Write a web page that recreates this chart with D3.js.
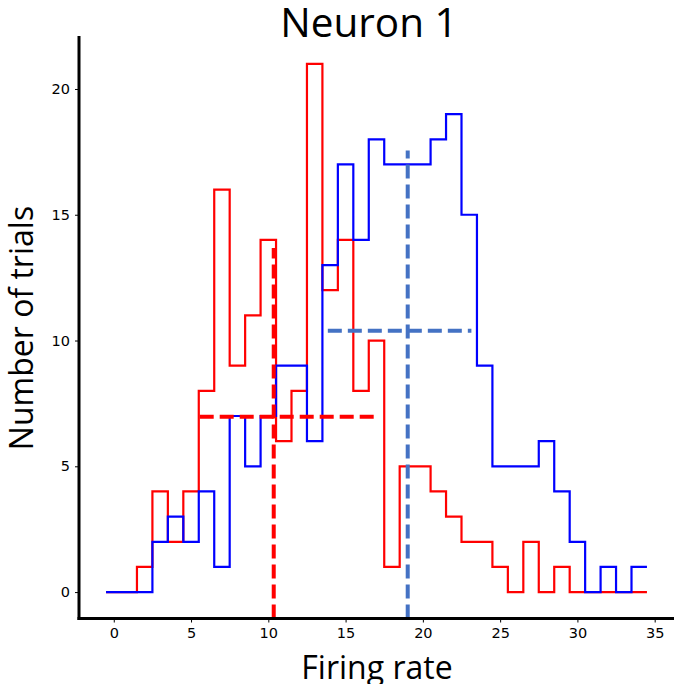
<!DOCTYPE html>
<html>
<head>
<meta charset="utf-8">
<script src="https://cdn.jsdelivr.net/npm/d3@7"></script>
<style>
  html, body { margin: 0; padding: 0; background: #fff; }
  svg { display: block; }
</style>
</head>
<body>
<div id="chart"></div>
<script>
// Bin centres (width 1) for the firing-rate histograms
const binCenters = d3.range(0, 35);
// Trial counts per bin, condition A (red) and condition B (blue)
const redCounts  = [0,0,1,4,2,4,8,16,9,11,14,6,8,21,12,14,8,10,1,5,5,4,3,2,2,1,0,2,0,1,0,0,0,0,0];
const blueCounts = [0,0,0,2,3,2,4,1,7,5,7,9,9,6,13,17,14,18,17,17,17,18,19,15,9,5,5,5,6,4,2,0,1,0,1];
// Summary markers: mean (vertical) and spread (horizontal)
const redMean  = { x: 10.35, top: 13.68, spreadY: 6.97, from: 5.56, to: 16.9 };
const blueMean = { x: 19.02, top: 17.55, spreadY: 10.39, from: 13.85, to: 23.14 };
const xTicks = [0, 5, 10, 15, 20, 25, 30, 35];
const yTicks = [0, 5, 10, 15, 20];

const W = 674, H = 684;
const plotLeft = 79, plotRight = 674, plotTop = 37.4, plotBottom = 618.5;

const svg = d3.select("#chart").append("svg").attr("width", W).attr("height", H);

const x = d3.scaleLinear().domain([-2.25, 36.25]).range([plotLeft, plotRight]);
const y = d3.scaleLinear().domain([-1.05, 22.05]).range([plotBottom, plotTop]);

// Step outline across bin edges
function stepPath(counts) {
  const pts = [];
  counts.forEach((c, i) => {
    pts.push([binCenters[i] - 0.5, c]);
    pts.push([binCenters[i] + 0.5, c]);
  });
  return d3.line().x(d => x(d[0])).y(d => y(d[1]))(pts);
}

svg.append("path").attr("d", stepPath(redCounts))
  .attr("fill", "none").attr("stroke", "#ff0000").attr("stroke-width", 2.2);
svg.append("path").attr("d", stepPath(blueCounts))
  .attr("fill", "none").attr("stroke", "#0000ff").attr("stroke-width", 2.2);

function markers(m, color) {
  const g = svg.append("g").attr("stroke", color).attr("stroke-width", 4)
    .attr("stroke-dasharray", "14,6").attr("fill", "none");
  g.append("line").attr("x1", x(m.x)).attr("x2", x(m.x))
    .attr("y1", y(-1.05)).attr("y2", y(m.top));
  g.append("line").attr("x1", x(m.from)).attr("x2", x(m.to))
    .attr("y1", y(m.spreadY)).attr("y2", y(m.spreadY));
}
markers(redMean, "#ff0000");
markers(blueMean, "#4472c4");

// Axes
const xAxis = svg.append("g").attr("transform", `translate(0,${plotBottom})`)
  .call(d3.axisBottom(x).tickValues(xTicks).tickSize(4).tickPadding(5));
const yAxis = svg.append("g").attr("transform", `translate(${plotLeft},0)`)
  .call(d3.axisLeft(y).tickValues(yTicks).tickSize(4).tickPadding(5));
[xAxis, yAxis].forEach(a => {
  a.select(".domain").remove();
  a.selectAll(".tick line").attr("stroke", "#000").attr("stroke-width", 1);
  a.selectAll(".tick text").attr("fill", "#000")
    .style("font-family", "DejaVu Sans, sans-serif").style("font-size", "14.5px");
});

// Spines
svg.append("line").attr("x1", plotLeft).attr("x2", plotLeft).attr("y1", plotTop - 1.5).attr("y2", plotBottom + 1.5)
  .attr("stroke", "#000").attr("stroke-width", 3);
svg.append("line").attr("x1", plotLeft - 1.5).attr("x2", plotRight).attr("y1", plotBottom).attr("y2", plotBottom)
  .attr("stroke", "#000").attr("stroke-width", 3);

// Labels
svg.append("text").attr("x", 369).attr("y", 37).attr("text-anchor", "middle")
  .style("font-family", "Open Sans, sans-serif").style("font-size", "40.5px").text("Neuron 1");
svg.append("text").attr("x", 377).attr("y", 679).attr("text-anchor", "middle")
  .style("font-family", "Open Sans, sans-serif").style("font-size", "32px").text("Firing rate");
svg.append("text").attr("transform", "translate(33,328) rotate(-90)").attr("text-anchor", "middle")
  .style("font-family", "Open Sans, sans-serif").style("font-size", "32px").text("Number of trials");
</script>
</body>
</html>
